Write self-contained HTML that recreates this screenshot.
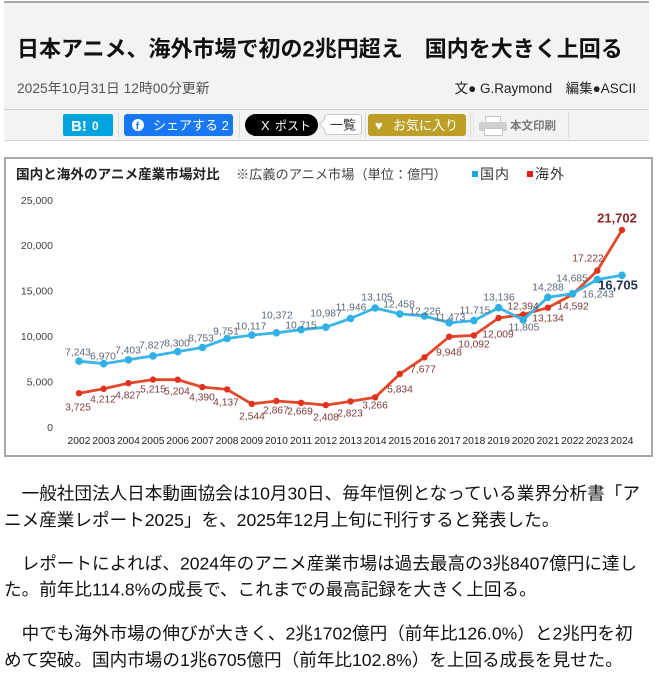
<!DOCTYPE html>
<html lang="ja">
<head>
<meta charset="utf-8">
<style>
html,body{margin:0;padding:0;background:#fff;}
body{width:659px;height:675px;overflow:hidden;position:relative;}
svg{position:absolute;left:0;top:0;}
text{font-family:"Liberation Sans","Noto Sans CJK JP",sans-serif;}
</style>
</head>
<body>
<svg width="659" height="675" viewBox="0 0 659 675" xmlns="http://www.w3.org/2000/svg">
  <!-- header background -->
  <rect x="4" y="1" width="645" height="139" fill="#f3f3f3"/>
  <rect x="4" y="1" width="645" height="2" fill="#aaaaaa"/>
  <text x="17" y="56.3" font-size="22" font-weight="bold" fill="#111">日本アニメ、海外市場で初の2兆円超え　国内を大きく上回る</text>
  <text x="17" y="93.2" font-size="13.8" fill="#555">2025年10月31日 12時00分更新</text>
  <text x="636" y="93.2" font-size="13.5" fill="#222" text-anchor="end">文● G.Raymond　編集●ASCII</text>

  <!-- toolbar -->
  <line x1="4" y1="109.5" x2="649" y2="109.5" stroke="#d2d2d2"/>
  <line x1="4" y1="140.5" x2="649" y2="140.5" stroke="#d2d2d2"/>

  <rect x="63" y="114" width="50" height="22" rx="2" fill="#00a4de"/>
  <text x="71" y="131" font-size="15" font-weight="bold" fill="#fff">B!</text>
  <text x="92" y="130" font-size="12" font-weight="bold" fill="#fff">0</text>
  <line x1="118.5" y1="112" x2="118.5" y2="138" stroke="#dcdcdc"/>

  <rect x="124" y="114" width="109" height="22" rx="3" fill="#1877f2"/>
  <circle cx="138" cy="125" r="6" fill="#fff"/>
  <text x="135.8" y="129.5" font-size="10" font-weight="bold" fill="#1877f2">f</text>
  <text x="153" y="130" font-size="13" fill="#fff">シェアする 2</text>
  <line x1="239.5" y1="112" x2="239.5" y2="138" stroke="#dcdcdc"/>

  <rect x="245" y="114" width="73" height="22" rx="11" fill="#000"/>
  <text x="261" y="130" font-size="13" fill="#fff">X</text>
  <text x="275" y="130" font-size="12" fill="#fff">ポスト</text>

  <path d="M324.5 119.5 L319.5 124.5 L324.5 129.5 Z" fill="#fff" stroke="#c8c8c8"/>
  <rect x="324.5" y="114.5" width="37" height="20" rx="3" fill="#fff" stroke="#c8c8c8"/>
  <rect x="324" y="120" width="2" height="9" fill="#fff"/>
  <text x="330" y="129.5" font-size="13" fill="#333">一覧</text>
  <line x1="365.5" y1="112" x2="365.5" y2="138" stroke="#dcdcdc"/>

  <rect x="368" y="114" width="98" height="22" rx="3" fill="#bd9f27"/>
  <text x="375" y="130" font-size="13" fill="#fff" font-family="DejaVu Sans">♥</text>
  <text x="393" y="130" font-size="13" fill="#fff">お気に入り</text>
  <line x1="470.5" y1="112" x2="470.5" y2="138" stroke="#dcdcdc"/>
  <line x1="473.5" y1="112" x2="473.5" y2="138" stroke="#e6e6e6"/>

  <rect x="485.5" y="116.5" width="15" height="7" fill="#fff" stroke="#c4c4c4"/>
  <rect x="479" y="122" width="28" height="9" rx="2" fill="#cfcfcf"/>
  <rect x="484.5" y="128.5" width="18" height="7" fill="#fff" stroke="#c4c4c4"/>
  <text x="510" y="129.5" font-size="11.5" font-weight="bold" fill="#7a7a7a">本文印刷</text>
  <line x1="568.5" y1="112" x2="568.5" y2="138" stroke="#dcdcdc"/>

  <!-- chart box -->
  <rect x="5" y="158" width="647" height="298" fill="#fff" stroke="#a8a8a8" stroke-width="2"/>
  <text x="16" y="179.2" font-size="13.6" font-weight="bold" fill="#222">国内と海外のアニメ産業市場対比</text>
  <text x="236" y="179" font-size="13.2" fill="#444">※広義のアニメ市場（単位：億円）</text>
  <rect x="472" y="171" width="6" height="6" fill="#1ea7e0"/>
  <text x="480" y="179" font-size="14" fill="#333" letter-spacing="1">国内</text>
  <rect x="527" y="171" width="6" height="6" fill="#e0201a"/>
  <text x="535" y="179" font-size="14" fill="#333" letter-spacing="1">海外</text>

  <!-- y axis labels -->
  <g font-size="10.5" fill="#404040" text-anchor="end">
    <text x="53" y="203.8">25,000</text>
    <text x="53" y="249.2">20,000</text>
    <text x="53" y="294.6">15,000</text>
    <text x="53" y="340">10,000</text>
    <text x="53" y="385.4">5,000</text>
    <text x="53" y="430.8">0</text>
  </g>

  <!-- x axis labels -->
  <g font-size="10.3" fill="#1e1e1e" text-anchor="middle">
    <text x="79" y="443.8">2002</text>
    <text x="103.7" y="443.8">2003</text>
    <text x="128.4" y="443.8">2004</text>
    <text x="153" y="443.8">2005</text>
    <text x="177.7" y="443.8">2006</text>
    <text x="202.4" y="443.8">2007</text>
    <text x="227.1" y="443.8">2008</text>
    <text x="251.8" y="443.8">2009</text>
    <text x="276.4" y="443.8">2010</text>
    <text x="301.1" y="443.8">2011</text>
    <text x="325.8" y="443.8">2012</text>
    <text x="350.5" y="443.8">2013</text>
    <text x="375.2" y="443.8">2014</text>
    <text x="399.8" y="443.8">2015</text>
    <text x="424.5" y="443.8">2016</text>
    <text x="449.2" y="443.8">2017</text>
    <text x="473.9" y="443.8">2018</text>
    <text x="498.6" y="443.8">2019</text>
    <text x="523.2" y="443.8">2020</text>
    <text x="547.9" y="443.8">2021</text>
    <text x="572.6" y="443.8">2022</text>
    <text x="597.3" y="443.8">2023</text>
    <text x="622" y="443.8">2024</text>
  </g>

  <!-- overseas line -->
  <polyline fill="none" stroke="#e2482a" stroke-width="2.8" stroke-linejoin="round"
    points="79,393.2 103.7,388.8 128.4,383.2 153,379.6 177.7,379.7 202.4,387.1 227.1,389.4 251.8,403.9 276.4,401 301.1,402.8 325.8,405.1 350.5,401.4 375.2,397.3 399.8,374 424.5,357.3 449.2,336.7 473.9,335.4 498.6,318 523.2,314.5 547.9,307.7 572.6,294.5 597.3,270.6 622,230"/>
  <g fill="#e0321f">
    <circle cx="79" cy="393.2" r="3.2"/><circle cx="103.7" cy="388.8" r="3.2"/><circle cx="128.4" cy="383.2" r="3.2"/>
    <circle cx="153" cy="379.6" r="3.2"/><circle cx="177.7" cy="379.7" r="3.2"/><circle cx="202.4" cy="387.1" r="3.2"/>
    <circle cx="227.1" cy="389.4" r="3.2"/><circle cx="251.8" cy="403.9" r="3.2"/><circle cx="276.4" cy="401" r="3.2"/>
    <circle cx="301.1" cy="402.8" r="3.2"/><circle cx="325.8" cy="405.1" r="3.2"/><circle cx="350.5" cy="401.4" r="3.2"/>
    <circle cx="375.2" cy="397.3" r="3.2"/><circle cx="399.8" cy="374" r="3.2"/><circle cx="424.5" cy="357.3" r="3.2"/>
    <circle cx="449.2" cy="336.7" r="3.2"/><circle cx="473.9" cy="335.4" r="3.2"/><circle cx="498.6" cy="318" r="3.2"/>
    <circle cx="523.2" cy="314.5" r="3.2"/><circle cx="547.9" cy="307.7" r="3.2"/><circle cx="572.6" cy="294.5" r="3.2"/>
    <circle cx="597.3" cy="270.6" r="3.2"/><circle cx="622" cy="230" r="3.2"/>
  </g>

  <!-- domestic line -->
  <polyline fill="none" stroke="#3ab5e8" stroke-width="2.8" stroke-linejoin="round"
    points="79,361.2 103.7,363.7 128.4,359.8 153,355.9 177.7,351.6 202.4,347.5 227.1,338.5 251.8,335.1 276.4,332.8 301.1,329.7 325.8,327.2 350.5,318.5 375.2,308 399.8,313.9 424.5,316 449.2,322.8 473.9,320.6 498.6,307.7 523.2,319.8 547.9,297.3 572.6,293.7 597.3,279.5 622,275.3"/>
  <g fill="#2fb0e6">
    <circle cx="79" cy="361.2" r="3.8"/><circle cx="103.7" cy="363.7" r="3.8"/><circle cx="128.4" cy="359.8" r="3.8"/>
    <circle cx="153" cy="355.9" r="3.8"/><circle cx="177.7" cy="351.6" r="3.8"/><circle cx="202.4" cy="347.5" r="3.8"/>
    <circle cx="227.1" cy="338.5" r="3.8"/><circle cx="251.8" cy="335.1" r="3.8"/><circle cx="276.4" cy="332.8" r="3.8"/>
    <circle cx="301.1" cy="329.7" r="3.8"/><circle cx="325.8" cy="327.2" r="3.8"/><circle cx="350.5" cy="318.5" r="3.8"/>
    <circle cx="375.2" cy="308" r="3.8"/><circle cx="399.8" cy="313.9" r="3.8"/><circle cx="424.5" cy="316" r="3.8"/>
    <circle cx="449.2" cy="322.8" r="3.8"/><circle cx="473.9" cy="320.6" r="3.8"/><circle cx="498.6" cy="307.7" r="3.8"/>
    <circle cx="523.2" cy="319.8" r="3.8"/><circle cx="547.9" cy="297.3" r="3.8"/><circle cx="572.6" cy="293.7" r="3.8"/>
    <circle cx="597.3" cy="279.5" r="3.8"/><circle cx="622" cy="275.3" r="3.8"/>
  </g>

  <!-- domestic labels -->
  <g font-size="10.3" fill="#5a6878" text-anchor="middle">
    <text x="78" y="355.6">7,243</text>
    <text x="103" y="359.6">6,970</text>
    <text x="128" y="353.6">7,403</text>
    <text x="152" y="348.6">7,827</text>
    <text x="177" y="346.6">8,300</text>
    <text x="201" y="341.6">8,753</text>
    <text x="226" y="334.6">9,751</text>
    <text x="251" y="329.6">10,117</text>
    <text x="277" y="318.6">10,372</text>
    <text x="301" y="328.6">10,715</text>
    <text x="326" y="316.6">10,987</text>
    <text x="351" y="310.6">11,946</text>
    <text x="377" y="300.6">13,105</text>
    <text x="399" y="307.6">12,458</text>
    <text x="425" y="314.6">12,226</text>
    <text x="450" y="320.6">11,473</text>
    <text x="475" y="313.6">11,715</text>
    <text x="499" y="300.6">13,136</text>
    <text x="524" y="330.6">11,805</text>
    <text x="548" y="290.6">14,288</text>
    <text x="572" y="281.6">14,685</text>
    <text x="598" y="297.6">16,243</text>
  </g>
  <text x="618" y="289.7" font-size="13" font-weight="bold" fill="#22344e" text-anchor="middle">16,705</text>

  <!-- overseas labels -->
  <g font-size="10.3" fill="#7d3b3b" text-anchor="middle">
    <text x="78" y="410.6">3,725</text>
    <text x="103" y="402.6">4,212</text>
    <text x="128" y="398.6">4,827</text>
    <text x="153" y="392.6">5,215</text>
    <text x="177" y="394.6">5,204</text>
    <text x="202" y="400.6">4,390</text>
    <text x="226" y="405.6">4,137</text>
    <text x="252" y="419.6">2,544</text>
    <text x="276" y="413.6">2,867</text>
    <text x="300" y="414.6">2,669</text>
    <text x="326" y="420.6">2,408</text>
    <text x="350" y="416.6">2,823</text>
    <text x="375" y="408.6">3,266</text>
    <text x="400" y="392.6">5,834</text>
    <text x="423" y="372.6">7,677</text>
    <text x="449" y="355.6">9,948</text>
    <text x="474" y="347.6">10,092</text>
    <text x="498" y="337.6">12,009</text>
    <text x="523" y="309.6">12,394</text>
    <text x="548" y="321.6">13,134</text>
    <text x="573" y="309.6">14,592</text>
    <text x="588" y="261.6">17,222</text>
  </g>
  <text x="617" y="222.7" font-size="13" font-weight="bold" fill="#8e2424" text-anchor="middle">21,702</text>

  <!-- body text -->
  <g font-size="17.6" fill="#111">
    <text x="4" y="499.7">　一般社団法人日本動画協会は10月30日、毎年恒例となっている業界分析書「ア</text>
    <text x="4" y="526.2">ニメ産業レポート2025」を、2025年12月上旬に刊行すると発表した。</text>
    <text x="4" y="569.7">　レポートによれば、2024年のアニメ産業市場は過去最高の3兆8407億円に達し</text>
    <text x="4" y="595.7">た。前年比114.8%の成長で、これまでの最高記録を大きく上回る。</text>
    <text x="4" y="639.7">　中でも海外市場の伸びが大きく、2兆1702億円（前年比126.0%）と2兆円を初</text>
    <text x="4" y="666.2">めて突破。国内市場の1兆6705億円（前年比102.8%）を上回る成長を見せた。</text>
  </g>
</svg>
</body>
</html>
